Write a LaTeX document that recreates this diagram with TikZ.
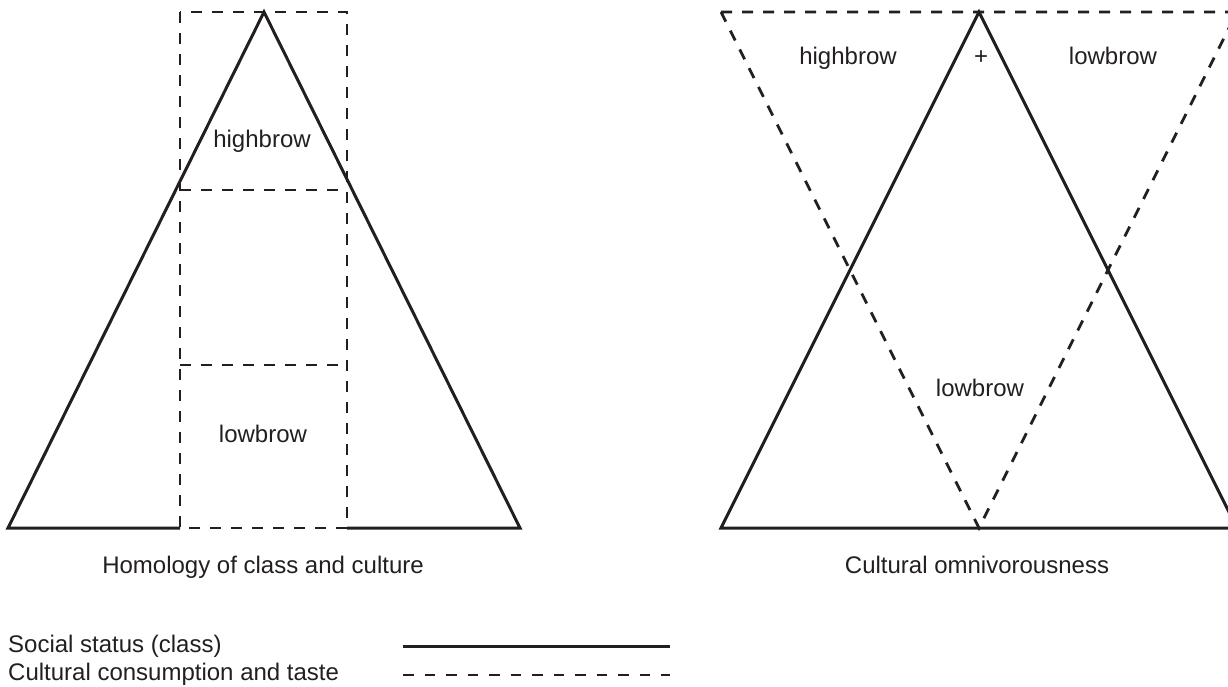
\documentclass[tikz,border=0pt]{standalone}
\usepackage{fontspec}
\setmainfont{Liberation Sans}
\definecolor{inkc}{HTML}{231F20}
\begin{document}
\begin{tikzpicture}[x=1pt, y=-1pt,
    status/.style={draw=inkc, line width=3pt},
    taste/.style={draw=inkc, line width=2.8pt, dash pattern=on 11pt off 10pt},
    lbl/.style={text=inkc, font=\fontsize{24}{28}\selectfont, inner sep=0pt, anchor=base}]
    \useasboundingbox (0,0) rectangle (1228,686);
    \clip (0,0) rectangle (1228,686);
    % homology of class and culture
    \draw[status] (180,528) -- (8,528) -- (264,12) -- (520,528) -- (347,528);
    \draw[taste] (180,12) rectangle (347,528);
    \draw[taste] (180,190) -- (347,190);
    \draw[taste] (180,365) -- (347,365);
    \node[lbl] (hbleft) at (262,147) {highbrow};
    \node[lbl] (lbleft) at (263,442) {lowbrow};
    \node[lbl] (capleft) at (263,573) {Homology of class and culture};
    %
    % cultural omnivorousness
    \draw[status] (721,528) -- (979,12) -- (1237,528) -- cycle;
    \draw[taste] (721,12) -- (1237,12) -- (979,528) -- cycle;
    \node[lbl] (hbright) at (848,64) {highbrow};
    \node[lbl] (plus) at (981,64) {+};
    \node[lbl] (lbtop) at (1113,64) {lowbrow};
    \node[lbl] (lbbottom) at (980,396) {lowbrow};
    \node[lbl] (capright) at (977,573) {Cultural omnivorousness};
    %
    % legend
    \node[lbl, anchor=base west] (keystatus) at (8,652) {Social status (class)};
    \node[lbl, anchor=base west] (keytaste) at (8,680) {Cultural consumption and taste};
    \coordinate (statusa) at (403,646);
    \coordinate (statusb) at (670,646);
    \coordinate (tastea) at (403,675);
    \coordinate (tasteb) at (670,675);
    \draw[status] (statusa) -- (statusb);
    \draw[taste, dash pattern=on 10.5pt off 11pt] (tastea) -- (tasteb);
\end{tikzpicture}
\end{document}
